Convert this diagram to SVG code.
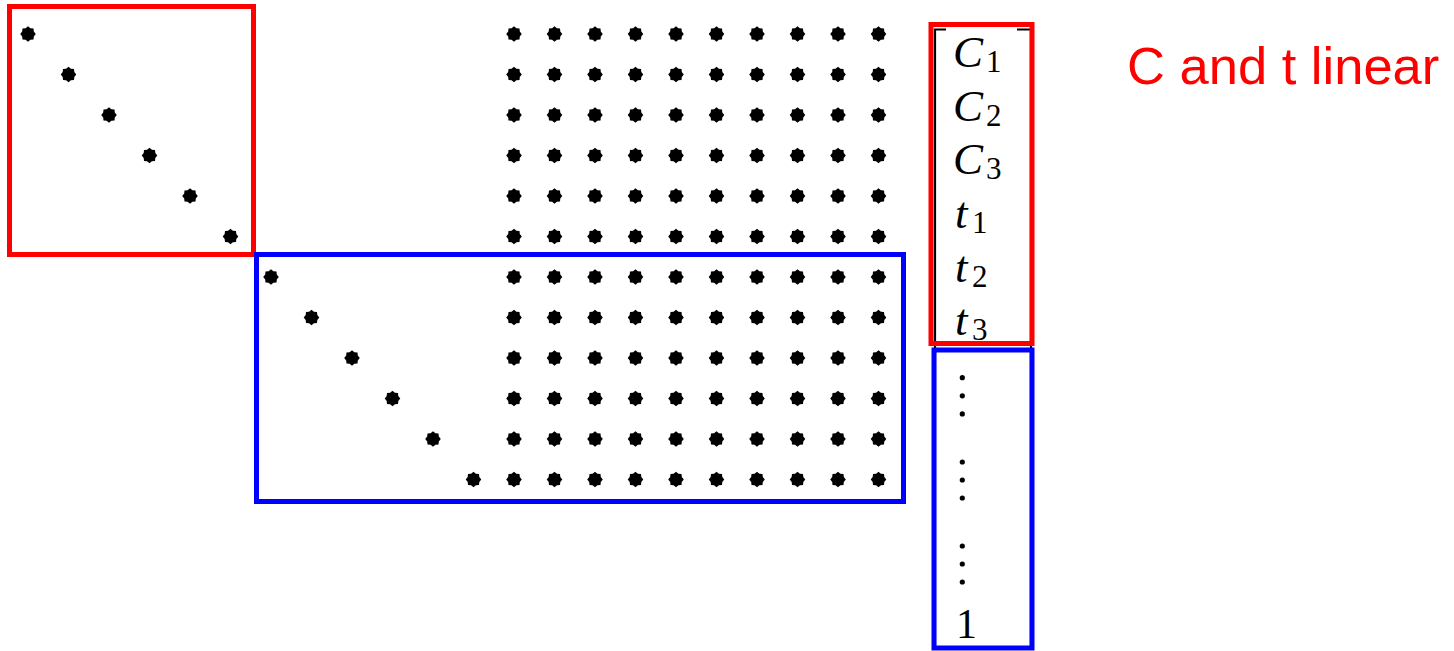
<svg xmlns="http://www.w3.org/2000/svg" xmlns:xlink="http://www.w3.org/1999/xlink" width="1454" height="651" viewBox="0 0 1454 651">
<style>
.red{fill:none;stroke:#ff0000;stroke-width:5}
.blue{fill:none;stroke:#0000ff;stroke-width:5}
.br{fill:none;stroke:#000;stroke-width:2.2}
.v{font-family:"Liberation Serif","Times New Roman",serif;font-style:italic;font-size:45px;fill:#000}
.s{font-family:"Liberation Serif","Times New Roman",serif;font-style:normal;font-size:31px;fill:#000}
.n{font-family:"Liberation Serif","Times New Roman",serif;font-size:42px;fill:#000}
.lbl{font-family:"Liberation Sans",Arial,sans-serif;font-size:52.5px;fill:#ff0000}
</style>
<defs>
<polygon id="d" points="7.8,0 5.8,2.4 5.5,5.5 2.4,5.8 0,7.8 -2.4,5.8 -5.5,5.5 -5.8,2.4 -7.8,0 -5.8,-2.4 -5.5,-5.5 -2.4,-5.8 0,-7.8 2.4,-5.8 5.5,-5.5 5.8,-2.4" fill="#000"/>
<g id="row">
<use href="#d" x="514" y="0"/><use href="#d" x="554.5" y="0"/><use href="#d" x="595" y="0"/><use href="#d" x="635.5" y="0"/><use href="#d" x="676" y="0"/><use href="#d" x="716.5" y="0"/><use href="#d" x="757" y="0"/><use href="#d" x="797.5" y="0"/><use href="#d" x="838" y="0"/><use href="#d" x="878.5" y="0"/>
</g>
</defs>
<rect width="1454" height="651" fill="#fff"/>
<g id="diagonal-top">
<use href="#d" x="28" y="34"/><use href="#d" x="68.5" y="74.5"/><use href="#d" x="109" y="115"/><use href="#d" x="149.5" y="155.5"/><use href="#d" x="190" y="196"/><use href="#d" x="230.5" y="236.5"/>
</g>
<g id="diagonal-bottom">
<use href="#d" x="271" y="277"/><use href="#d" x="311.5" y="317.5"/><use href="#d" x="352" y="358"/><use href="#d" x="392.5" y="398.5"/><use href="#d" x="433" y="439"/><use href="#d" x="473.5" y="479.5"/>
</g>
<g id="dense-block">
<use href="#row" y="34"/><use href="#row" y="74.5"/><use href="#row" y="115"/><use href="#row" y="155.5"/><use href="#row" y="196"/><use href="#row" y="236.5"/>
<use href="#row" y="277"/><use href="#row" y="317.5"/><use href="#row" y="358"/><use href="#row" y="398.5"/><use href="#row" y="439"/><use href="#row" y="479.5"/>
</g>
<g id="vector">
<path class="br" d="M946,29.5 H935 V647 H946 M1017,29.5 H1031 V647 H1017"/>
<text class="v" x="953" y="67">C</text><text class="s" x="986" y="72">1</text>
<text class="v" x="953" y="120.5">C</text><text class="s" x="986" y="125.5">2</text>
<text class="v" x="953" y="174">C</text><text class="s" x="986" y="179">3</text>
<text class="v" x="955" y="228">t</text><text class="s" x="972" y="233">1</text>
<text class="v" x="955" y="281.5">t</text><text class="s" x="972" y="286.5">2</text>
<text class="v" x="955" y="335">t</text><text class="s" x="972" y="340">3</text>
<g fill="#000">
<circle cx="962.3" cy="377.7" r="2.6"/><circle cx="962.3" cy="395.8" r="2.6"/><circle cx="962.3" cy="413.9" r="2.6"/>
<circle cx="962.3" cy="462" r="2.6"/><circle cx="962.3" cy="480" r="2.6"/><circle cx="962.3" cy="498" r="2.6"/>
<circle cx="962.3" cy="546" r="2.6"/><circle cx="962.3" cy="564" r="2.6"/><circle cx="962.3" cy="582" r="2.6"/>
</g>
<text class="n" x="956" y="638">1</text>
</g>
<g id="boxes">
<rect class="red" x="9.5" y="6.5" width="244" height="248"/>
<rect class="blue" x="256.5" y="254.5" width="647" height="247"/>
<rect class="red" x="931" y="24.5" width="101" height="319"/>
<rect class="blue" x="934" y="350" width="98" height="298"/>
</g>
<g id="label">
<text class="lbl" x="1127" y="84">C and t linear</text>
</g>
</svg>
